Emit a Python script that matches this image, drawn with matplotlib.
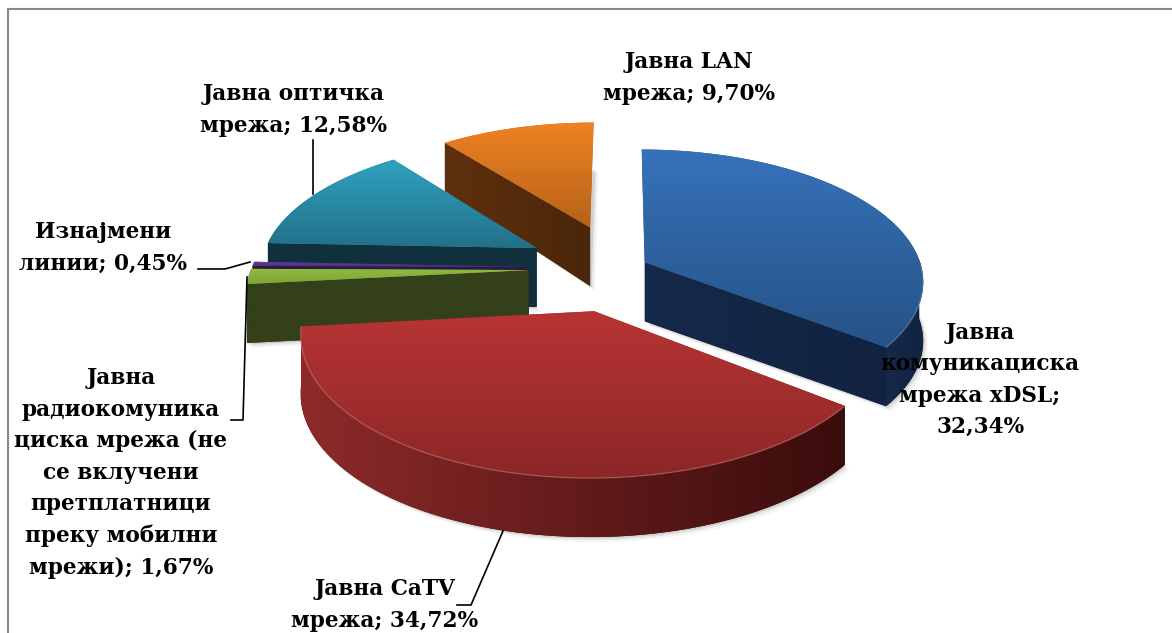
import numpy as np
import matplotlib
matplotlib.use("Agg")
import matplotlib.pyplot as plt
from matplotlib.colors import LinearSegmentedColormap
from matplotlib.patches import Polygon

# ---- data ----
names = ["Јавна комуникациска мрежа xDSL", "Јавна CaTV мрежа",
         "Јавна радиокомуникациска мрежа", "Изнајмени линии",
         "Јавна оптичка мрежа", "Јавна LAN мрежа"]
values = [32.34, 34.72, 1.67, 0.45, 12.58, 9.70]

# ---- style / layout ----
explode = [0.10, 0.33, 0.33, 0.33, 0.345, 0.345]
top_hi = ["#3672ba", "#b83434", "#90bb40", "#63409a", "#2fa2c0", "#f08222"]
top_lo = ["#265286", "#8c2727", "#7da535", "#4d2f78", "#227088", "#b5621a"]
rim_l = ["#15294a", "#8e2a2a", "#33401a", "#2a1a45", "#10303d", "#5f300d"]
rim_r = ["#11233f", "#3a0c0c", "#34401a", "#2a1a45", "#10303d", "#4a260a"]
CX, CY, RX, RY, PERSP, H = 620, 268, 277, 130, 0.14, 59

W, HT = 1172, 633
fig = plt.figure(figsize=(W/100, HT/100), dpi=100)
ax = fig.add_axes([0, 0, 1, 1])
ax.set_xlim(0, W); ax.set_ylim(HT, 0); ax.axis("off")


def project(U, V, down=False):
    w = 1/(1 - PERSP*V)
    y = CY + RY*V*w
    if down:
        y = y + H*np.minimum(1.0, (w/0.96)**2)
    return CX + RX*U*w, y


def gradient_fill(xs, ys, c0, c1, vertical, z, span=None):
    xs, ys = np.asarray(xs), np.asarray(ys)
    poly = Polygon(np.column_stack([xs, ys]), closed=True, fc=c1, ec="none", zorder=z)
    ax.add_patch(poly)
    cmap = LinearSegmentedColormap.from_list("g", [c0, c1])
    ramp = np.linspace(0, 1, 256)
    if vertical:
        im = ax.imshow(ramp[:, None], cmap=cmap, aspect="auto", interpolation="bilinear",
                       extent=(xs.min(), xs.max(), ys.max(), ys.min()), zorder=z)
    else:
        lo, hi = span if span else (xs.min(), xs.max())
        im = ax.imshow(ramp[None, :], cmap=cmap, aspect="auto", interpolation="bilinear",
                       extent=(lo, hi, ys.max(), ys.min()), zorder=z)
    im.set_clip_path(poly)


fracs = np.array(values)/sum(values)
edges = np.concatenate([[0], np.cumsum(fracs)])*2*np.pi
order = [5, 4, 3, 2, 0, 1]
for k, i in enumerate(order):
    a0, a1 = edges[i], edges[i+1]
    mid = (a0+a1)/2
    ou, ov = explode[i]*np.sin(mid), -explode[i]*np.cos(mid)
    t = np.linspace(a0, a1, 240)
    U = ou + np.sin(t); V = ov - np.cos(t)
    base = 10 + k*10
    x0, y0 = project(ou, ov); x0b, y0b = project(ou, ov, True)
    xt, yt = project(U, V); xb, yb = project(U, V, True)

    # soft shadow under the slice
    sx = np.r_[x0b, xb]; sy = np.r_[y0b, yb]
    for off, al in ((5, .04), (3, .06), (1.5, .09)):
        ax.add_patch(Polygon(np.column_stack([sx+off, sy+off]), closed=True, fc="black", ec="none",
                             alpha=al, zorder=base))
    # cut faces that look towards the viewer
    if np.sin(a0) < -1e-6:
        gradient_fill([x0, xt[0], xb[0], x0b], [y0, yt[0], yb[0], y0b], rim_l[i], rim_r[i], False, base+1)
    if np.sin(a1) > 1e-6:
        gradient_fill([x0, xt[-1], xb[-1], x0b], [y0, yt[-1], yb[-1], y0b], rim_l[i], rim_r[i], False, base+1)
    # outer rim: only the part that faces the viewer
    vis = np.cos(t) < 0.02
    if vis.sum() > 1:
        gradient_fill(np.r_[xt[vis], xb[vis][::-1]], np.r_[yt[vis], yb[vis][::-1]],
                      rim_l[i], rim_r[i], False, base+2)
    # top face with a vertical gradient
    gradient_fill(np.r_[x0, xt], np.r_[y0, yt], top_hi[i], top_lo[i], True, base+3)

    # bevel highlight on the front edge
    vis2 = np.cos(t) < -0.02
    if vis2.sum() > 1:
        ax.plot(xt[vis2], yt[vis2], color="#e8a0a0" if i == 1 else "#9fb8d8", alpha=.35, lw=1.0, zorder=base+4)

ax.set_xlim(0, W); ax.set_ylim(HT, 0)

# frame
ax.plot([7.5, 7.5, W], [HT, 9, 9], color="#8a8a8a", lw=1.5, zorder=1, solid_joinstyle="miter")

# leader lines
leaders = [([313, 313], [140, 194]),
           ([198, 225, 250], [269, 269, 262]),
           ([231, 243, 247], [420, 420, 277]),
           ([457, 471, 503], [605, 605, 531])]
for lx, ly in leaders:
    ax.plot(lx, ly, color="black", lw=1.2, zorder=90)

# data labels
labels = [(689, 78, "Јавна LAN\nмрежа; 9,70%"),
          (294, 110, "Јавна оптичка\nмрежа; 12,58%"),
          (103, 248, "Изнајмени\nлинии; 0,45%"),
          (121, 473, "Јавна\nрадиокомуника\nциска мрежа (не\nсе вклучени\nпретплатници\nпреку мобилни\nмрежи); 1,67%"),
          (385, 605, "Јавна CaTV\nмрежа; 34,72%"),
          (980, 380, "Јавна\nкомуникациска\nмрежа xDSL;\n32,34%")]
for x, y, s in labels:
    ax.text(x, y, s, ha="center", va="center", family=["DejaVu Serif"],
            weight="bold", fontsize=15.6, linespacing=1.55, color="black", zorder=100)

fig.savefig("out.png", dpi=100)
